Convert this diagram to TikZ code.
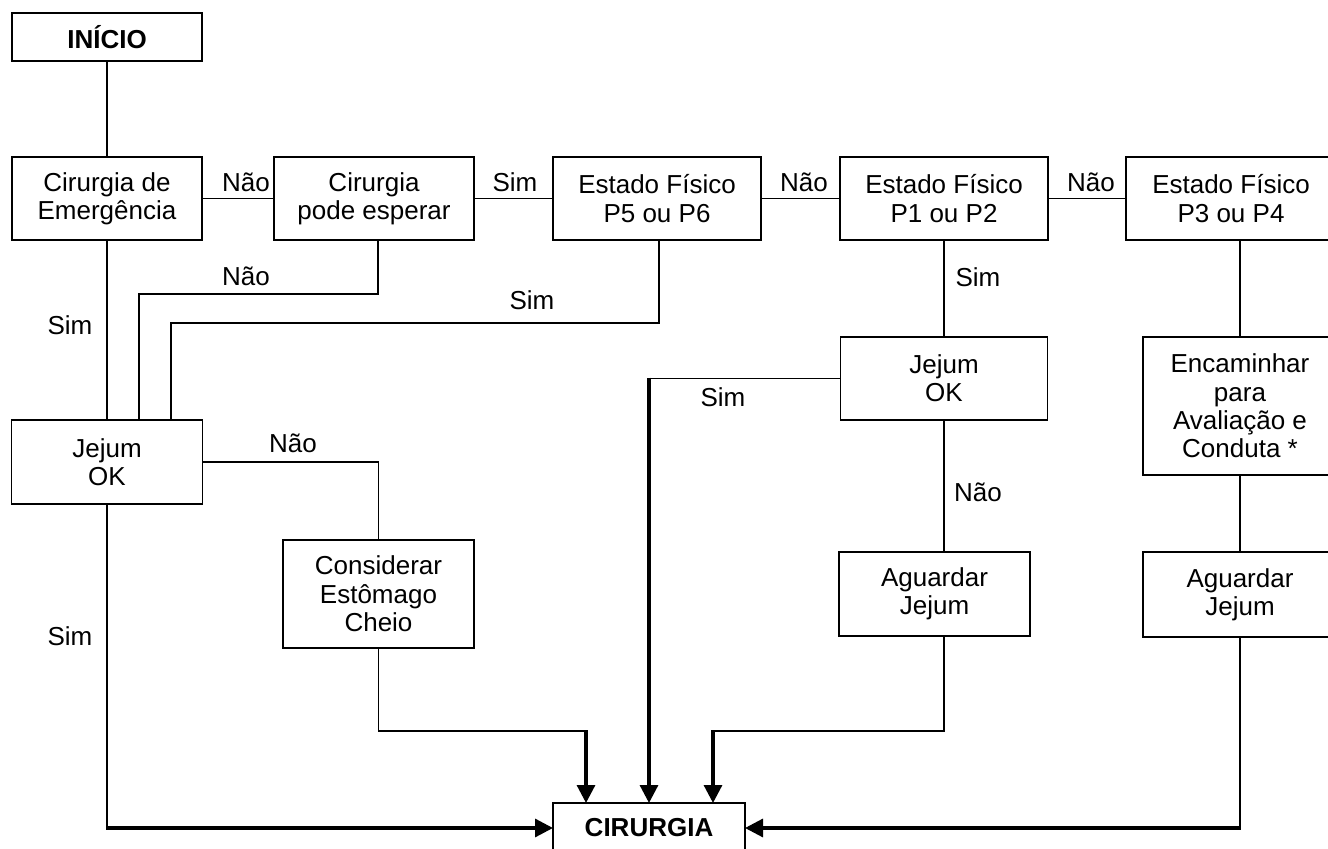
\documentclass[tikz,border=0pt]{standalone}
\usepackage{fontspec}
\setmainfont{Liberation Sans}
\usetikzlibrary{arrows.meta,positioning}
\tikzstyle{caixa}=[rectangle,draw,line width=0.8pt,align=center,inner sep=2pt,outer sep=0pt,minimum width=95pt,minimum height=41.5pt,font=\fontsize{13}{14.2}\selectfont]
\tikzstyle{forte}=[font=\fontsize{13}{14.2}\selectfont\bfseries]
\tikzstyle{rotulo}=[inner sep=0pt,anchor=base,font=\fontsize{13}{14.2}\selectfont]
\tikzstyle{liga}=[line width=0.75pt]
\tikzstyle{seta}=[line width=1.6pt,shorten <=-0.4pt,-{Triangle[length=9pt,width=9pt]}]

\begin{document}
\begin{tikzpicture}[x=0.5pt,y=-0.5pt]
\useasboundingbox (0,0) rectangle (1328,849);
% linha de cima
\node[caixa,forte,minimum height=24pt] (inicio) at (107,37) {INÍCIO};
\node[caixa,below=48pt of inicio] (emerg) {Cirurgia de\\Emergência};
\node[caixa,minimum width=100pt,right=36pt of emerg] (espera) {Cirurgia\\pode esperar};
\node[caixa,minimum width=104pt,right=39.5pt of espera] (p56) {Estado Físico\\P5 ou P6};
\node[caixa,minimum width=104pt,right=39.5pt of p56] (p12) {Estado Físico\\P1 ou P2};
\node[caixa,minimum width=105pt,right=39pt of p12] (p34) {Estado Físico\\P3 ou P4};
% jejum e esperas
\node[caixa,minimum width=95.5pt,minimum height=42pt,below=90pt of emerg] (jejumA) {Jejum\\OK};
\node[caixa,minimum width=95.5pt,minimum height=54pt] (cheio) at (378.5,594) {Considerar\\Estômago\\Cheio};
\node[caixa,minimum width=103.5pt,below=48.5pt of p12] (jejumB) {Jejum\\OK};
\node[caixa,minimum width=95.5pt,minimum height=42pt] (aguardB) at (934.5,594) {Aguardar\\Jejum};
\node[caixa,minimum width=97pt,minimum height=69pt] (enc) at (1240,406) {Encaminhar\\para\\Avaliação e\\Conduta *};
\node[caixa,minimum width=97pt,minimum height=42.5pt,below=38.5pt of enc] (aguardC) {Aguardar\\Jejum};
\node[caixa,forte,minimum width=96pt,minimum height=25pt] (cirurgia) at (649,828) {CIRURGIA};
% pontos de dobra
\coordinate (c1) at (139,294);
\coordinate (c2) at (171,323);
\coordinate (c3) at (586,731);
\coordinate (c4) at (cirurgia.north |- jejumB.west);
\coordinate (c5) at (713,731);
% ligacoes
\draw[liga] (inicio) -- (emerg);
\draw[liga] (emerg) -- (espera) node[rotulo] at (246,192) {Não};
\draw[liga] (espera) -- (p56) node[rotulo] at (515,192) {Sim};
\draw[liga] (p56) -- (p12) node[rotulo] at (804,192) {Não};
\draw[liga] (p12) -- (p34) node[rotulo] at (1091,192) {Não};
\draw[liga] (emerg) -- (jejumA) node[rotulo] at (70,335) {Sim};
\draw[liga] ([xshift=2pt]espera.south) |- (c1) -- (c1 |- jejumA.north) node[rotulo] at (246,286) {Não};
\draw[liga] ([xshift=1pt]p56.south) |- (c2) -- (c2 |- jejumA.north) node[rotulo] at (532,310) {Sim};
\draw[liga] (jejumA) -| (cheio) node[rotulo] at (293,453) {Não};
\draw[liga] (cheio) |- (c3);
\draw[seta] (c3) -- (c3 |- cirurgia.north);
\draw[liga] (p12) -- (jejumB) node[rotulo] at (978,287) {Sim};
\draw[liga] (jejumB) -- (c4) node[rotulo] at (723,407) {Sim};
\draw[seta] (c4) -- (c4 |- cirurgia.north);
\draw[liga] (jejumB.south) -- (jejumB.south |- aguardB.north) node[rotulo] at (978,502) {Não};
\draw[liga] (aguardB.south -| jejumB) |- (c5);
\draw[seta] (c5) -- (c5 |- cirurgia.north);
\draw[liga] (p34.south -| enc) -- (enc);
\draw[liga] (enc) -- (aguardC);
\draw[liga] (aguardC) -- (aguardC.south |- cirurgia.east);
\draw[seta] (aguardC.south |- cirurgia.east) -- (cirurgia.east);
\draw[liga] (jejumA) -- (jejumA.south |- cirurgia.west) node[rotulo] at (70,646) {Sim};
\draw[seta] (jejumA.south |- cirurgia.west) -- (cirurgia.west);
\end{tikzpicture}
\end{document}
